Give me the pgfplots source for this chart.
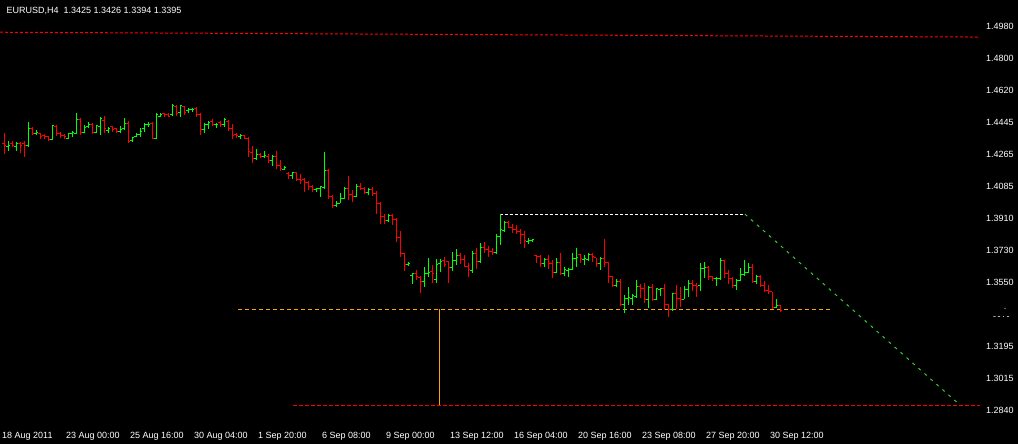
\documentclass[border=0pt]{standalone}
\usepackage{pgfplots}
\pgfplotsset{compat=1.18}
\usepackage{pgfplotstable}
\usepackage{fontspec}
\setmainfont{Liberation Sans}
\newcommand\mtfont{\fontsize{9bp}{10bp}\selectfont}
\definecolor{upc}{RGB}{0,255,0}
\definecolor{dnc}{RGB}{255,0,0}
\definecolor{orl}{RGB}{255,165,0}
\definecolor{grl}{RGB}{50,205,50}
\pgfdeclareplotmark{ctick}{\pgfpathmoveto{\pgfpoint{0pt}{0pt}}\pgfpathlineto{\pgfpoint{2bp}{0pt}}\pgfusepathqstroke}
\pgfdeclareplotmark{otick}{\pgfpathmoveto{\pgfpoint{-2bp}{0pt}}\pgfpathlineto{\pgfpoint{0pt}{0pt}}\pgfusepathqstroke}
\pgfplotstableread{
i o h l c
0 1.4328 1.4387 1.4266 1.4313
1 1.4309 1.4341 1.4285 1.4318
2 1.4328 1.4341 1.4309 1.4318
3 1.4309 1.4337 1.4285 1.4328
4 1.4328 1.4337 1.4276 1.4318
5 1.4328 1.4341 1.4253 1.4318
6 1.4318 1.4445 1.4305 1.4411
7 1.4411 1.4421 1.4374 1.4383
8 1.4383 1.4402 1.4374 1.4387
9 1.4380 1.4383 1.4352 1.4365
10 1.4369 1.4378 1.4350 1.4365
11 1.4365 1.4370 1.4343 1.4350
12 1.4350 1.4430 1.4346 1.4428
13 1.4424 1.4430 1.4369 1.4380
14 1.4380 1.4389 1.4356 1.4374
15 1.4374 1.4378 1.4350 1.4365
16 1.4356 1.4387 1.4350 1.4383
17 1.4380 1.4396 1.4361 1.4387
18 1.4383 1.4495 1.4378 1.4461
19 1.4461 1.4471 1.4372 1.4387
20 1.4387 1.4430 1.4383 1.4417
21 1.4421 1.4445 1.4415 1.4430
22 1.4430 1.4439 1.4383 1.4387
23 1.4387 1.4430 1.4383 1.4426
24 1.4424 1.4476 1.4374 1.4467
25 1.4454 1.4480 1.4387 1.4408
26 1.4402 1.4421 1.4383 1.4408
27 1.4421 1.4426 1.4393 1.4406
28 1.4408 1.4411 1.4383 1.4393
29 1.4393 1.4424 1.4387 1.4406
30 1.4411 1.4467 1.4402 1.4439
31 1.4439 1.4452 1.4328 1.4337
32 1.4346 1.4365 1.4337 1.4359
33 1.4365 1.4383 1.4361 1.4378
34 1.4378 1.4415 1.4365 1.4393
35 1.4411 1.4439 1.4393 1.4430
36 1.4430 1.4445 1.4421 1.4435
37 1.4439 1.4445 1.4352 1.4356
38 1.4356 1.4495 1.4350 1.4486
39 1.4480 1.4495 1.4476 1.4489
40 1.4495 1.4499 1.4476 1.4486
41 1.4489 1.4495 1.4476 1.4480
42 1.4486 1.4545 1.4480 1.4536
43 1.4532 1.4541 1.4480 1.4495
44 1.4499 1.4541 1.4476 1.4538
45 1.4532 1.4536 1.4486 1.4499
46 1.4508 1.4523 1.4499 1.4519
47 1.4514 1.4523 1.4504 1.4517
48 1.4523 1.4528 1.4476 1.4491
49 1.4491 1.4499 1.4374 1.4406
50 1.4406 1.4443 1.4383 1.4430
51 1.4430 1.4452 1.4406 1.4445
52 1.4449 1.4461 1.4424 1.4430
53 1.4430 1.4443 1.4415 1.4434
54 1.4445 1.4452 1.4417 1.4430
55 1.4430 1.4467 1.4421 1.4458
56 1.4449 1.4458 1.4396 1.4411
57 1.4411 1.4434 1.4352 1.4374
58 1.4378 1.4383 1.4359 1.4369
59 1.4365 1.4378 1.4352 1.4369
60 1.4369 1.4374 1.4352 1.4356
61 1.4356 1.4361 1.4253 1.4281
62 1.4278 1.4313 1.4220 1.4244
63 1.4244 1.4294 1.4235 1.4268
64 1.4268 1.4276 1.4248 1.4253
65 1.4253 1.4285 1.4248 1.4259
66 1.4257 1.4266 1.4220 1.4231
67 1.4231 1.4263 1.4203 1.4253
68 1.4253 1.4285 1.4183 1.4207
69 1.4207 1.4235 1.4175 1.4185
70 1.4183 1.4201 1.4179 1.4192
71 1.4161 1.4170 1.4127 1.4151
72 1.4151 1.4170 1.4127 1.4166
73 1.4166 1.4170 1.4120 1.4127
74 1.4127 1.4157 1.4101 1.4123
75 1.4127 1.4133 1.4055 1.4109
76 1.4109 1.4118 1.4068 1.4086
77 1.4086 1.4095 1.4055 1.4068
78 1.4068 1.4081 1.4058 1.4077
79 1.4077 1.4090 1.4030 1.4086
80 1.4081 1.4281 1.4073 1.4179
81 1.4179 1.4185 1.4017 1.4034
82 1.4034 1.4038 1.3965 1.3984
83 1.3984 1.4006 1.3971 1.3995
84 1.3995 1.4049 1.3993 1.4021
85 1.4021 1.4082 1.4017 1.4077
86 1.4077 1.4146 1.4012 1.4045
87 1.4045 1.4068 1.4001 1.4034
88 1.4034 1.4099 1.4027 1.4086
89 1.4086 1.4105 1.4068 1.4077
90 1.4077 1.4082 1.4049 1.4053
91 1.4053 1.4077 1.4040 1.4073
92 1.4073 1.4082 1.4034 1.4049
93 1.4049 1.4062 1.3934 1.3995
94 1.3995 1.4001 1.3880 1.3920
95 1.3920 1.3935 1.3880 1.3900
96 1.3900 1.3934 1.3890 1.3925
97 1.3925 1.3934 1.3873 1.3901
98 1.3901 1.3910 1.3780 1.3804
99 1.3804 1.3839 1.3692 1.3715
100 1.3715 1.3715 1.3618 1.3655
101 1.3652 1.3668 1.3646 1.3659
102 1.3590 1.3607 1.3544 1.3603
103 1.3603 1.3622 1.3566 1.3588
104 1.3581 1.3588 1.3496 1.3557
105 1.3557 1.3640 1.3529 1.3600
106 1.3600 1.3687 1.3581 1.3607
107 1.3613 1.3650 1.3551 1.3600
108 1.3570 1.3681 1.3551 1.3655
109 1.3659 1.3681 1.3613 1.3668
110 1.3672 1.3692 1.3640 1.3650
111 1.3668 1.3674 1.3551 1.3637
112 1.3637 1.3724 1.3618 1.3674
113 1.3674 1.3737 1.3650 1.3705
114 1.3705 1.3715 1.3655 1.3681
115 1.3681 1.3705 1.3640 1.3644
116 1.3644 1.3659 1.3585 1.3622
117 1.3618 1.3728 1.3607 1.3711
118 1.3711 1.3746 1.3627 1.3668
119 1.3668 1.3774 1.3663 1.3748
120 1.3748 1.3780 1.3715 1.3737
121 1.3737 1.3756 1.3696 1.3724
122 1.3724 1.3746 1.3705 1.3720
123 1.3720 1.3822 1.3711 1.3811
124 1.3811 1.3933 1.3761 1.3845
125 1.3841 1.3895 1.3836 1.3886
126 1.3886 1.3895 1.3854 1.3860
127 1.3860 1.3878 1.3826 1.3849
128 1.3849 1.3873 1.3822 1.3836
129 1.3836 1.3849 1.3767 1.3817
130 1.3817 1.3839 1.3746 1.3785
131 1.3780 1.3798 1.3767 1.3789
132 1.3785 1.3795 1.3780 1.3793
133 1.3702 1.3706 1.3659 1.3696
134 1.3696 1.3706 1.3641 1.3659
135 1.3659 1.3687 1.3641 1.3681
136 1.3681 1.3706 1.3626 1.3659
137 1.3659 1.3678 1.3579 1.3609
138 1.3609 1.3687 1.3607 1.3665
139 1.3665 1.3715 1.3598 1.3600
140 1.3600 1.3641 1.3590 1.3622
141 1.3618 1.3631 1.3585 1.3626
142 1.3626 1.3715 1.3622 1.3687
143 1.3687 1.3743 1.3641 1.3693
144 1.3706 1.3711 1.3659 1.3687
145 1.3681 1.3706 1.3650 1.3687
146 1.3683 1.3719 1.3674 1.3706
147 1.3706 1.3719 1.3668 1.3696
148 1.3690 1.3691 1.3641 1.3659
149 1.3659 1.3693 1.3622 1.3687
150 1.3687 1.3795 1.3641 1.3665
151 1.3665 1.3668 1.3551 1.3585
152 1.3585 1.3589 1.3529 1.3533
153 1.3533 1.3570 1.3525 1.3557
154 1.3557 1.3570 1.3423 1.3427
155 1.3427 1.3483 1.3381 1.3464
156 1.3464 1.3525 1.3427 1.3468
157 1.3464 1.3486 1.3427 1.3479
158 1.3473 1.3566 1.3464 1.3529
159 1.3529 1.3542 1.3464 1.3520
160 1.3520 1.3548 1.3436 1.3455
161 1.3455 1.3533 1.3412 1.3525
162 1.3525 1.3542 1.3449 1.3459
163 1.3459 1.3520 1.3455 1.3518
164 1.3514 1.3524 1.3477 1.3520
165 1.3520 1.3544 1.3399 1.3427
166 1.3427 1.3433 1.3358 1.3399
167 1.3399 1.3496 1.3395 1.3492
168 1.3492 1.3538 1.3403 1.3464
169 1.3464 1.3525 1.3418 1.3459
170 1.3460 1.3533 1.3459 1.3511
171 1.3511 1.3566 1.3473 1.3548
172 1.3548 1.3566 1.3505 1.3538
173 1.3538 1.3548 1.3470 1.3529
174 1.3533 1.3659 1.3507 1.3631
175 1.3631 1.3665 1.3579 1.3637
176 1.3637 1.3644 1.3566 1.3585
177 1.3585 1.3590 1.3561 1.3572
178 1.3572 1.3585 1.3535 1.3576
179 1.3576 1.3687 1.3566 1.3674
180 1.3674 1.3678 1.3576 1.3603
181 1.3603 1.3622 1.3544 1.3576
182 1.3576 1.3585 1.3520 1.3533
183 1.3533 1.3572 1.3511 1.3566
184 1.3566 1.3631 1.3563 1.3598
185 1.3598 1.3678 1.3590 1.3607
186 1.3607 1.3659 1.3603 1.3637
187 1.3637 1.3655 1.3548 1.3557
188 1.3557 1.3594 1.3544 1.3585
189 1.3585 1.3594 1.3529 1.3538
190 1.3538 1.3561 1.3501 1.3507
191 1.3507 1.3538 1.3488 1.3501
192 1.3501 1.3501 1.3405 1.3412
193 1.3412 1.3459 1.3408 1.3424
194 1.3425 1.3426 1.3394 1.3395
}\bars
\begin{document}
\begin{tikzpicture}
\fill[black] (0,0) rectangle (1018bp,444bp);
\begin{axis}[
  at={(0bp,26bp)}, anchor=south west,
  scale only axis, width=980bp, height=418bp,
  xmin=-1, xmax=244, ymin=1.27970, ymax=1.51266,
  axis line style={draw=none}, major tick length=0pt, tick style={draw=none},
  xtick={0,16,32,48,64,80,96,112,128,144,160,176,192},
  xticklabels={18 Aug 2011,23 Aug 00:00,25 Aug 16:00,30 Aug 04:00,1 Sep 20:00,6 Sep 08:00,9 Sep 00:00,13 Sep 12:00,16 Sep 04:00,20 Sep 16:00,23 Sep 08:00,27 Sep 20:00,30 Sep 12:00},
  ytick={1.4980,1.4800,1.4620,1.4445,1.4265,1.4085,1.3910,1.3730,1.3550,1.3195,1.3015,1.2840},
  yticklabels={1.4980,1.4800,1.4620,1.4445,1.4265,1.4085,1.3910,1.3730,1.3550,1.3195,1.3015,1.2840},
  yticklabel pos=right,
  yticklabel style={anchor=west, inner sep=0pt, xshift=6bp, text=white, font=\mtfont},
  xticklabel style={anchor=north west, inner sep=0pt, xshift=-2bp, yshift=-14.5bp, text=white, font=\mtfont},
]
% objects
\addplot[dnc, line width=1bp, dash pattern=on 3bp off 2bp] coordinates {(-1,1.4947) (244,1.4920)};
\addplot[orl, line width=1bp, dash pattern=on 4bp off 3bp] coordinates {(58.5,1.3403) (206.5,1.3403)};
\addplot[orl, line width=1bp] coordinates {(108.8,1.3403) (108.8,1.2862)};
\addplot[dnc, line width=1bp, dash pattern=on 4bp off 2bp] coordinates {(72.25,1.2868) (244,1.2868)};
\addplot[white, line width=1bp, dash pattern=on 3bp off 2bp] coordinates {(124,1.3933) (185.25,1.3933)};
\addplot[grl, line width=1bp, dash pattern=on 3bp off 5bp] coordinates {(185.25,1.3933) (238.2,1.2885)};
% up bars
\addplot[upc, only marks, mark=ctick, mark options={line width=1bp, solid},
  restrict expr to domain={\thisrow{c}-\thisrow{o}}{0:1},
  error bars/.cd, y dir=both, y explicit, error mark=none,
  error bar style={line width=1bp, solid, draw=upc}]
  table[x=i, y=c, y error plus expr=\thisrow{h}-\thisrow{c}, y error minus expr=\thisrow{c}-\thisrow{l}] {\bars};
\addplot[upc, only marks, mark=otick, mark options={line width=1bp, solid},
  restrict expr to domain={\thisrow{c}-\thisrow{o}}{0:1}]
  table[x=i, y=o] {\bars};
% down bars
\addplot[dnc, only marks, mark=ctick, mark options={line width=1bp, solid},
  restrict expr to domain={\thisrow{c}-\thisrow{o}}{-1:-0.00001},
  error bars/.cd, y dir=both, y explicit, error mark=none,
  error bar style={line width=1bp, solid, draw=dnc}]
  table[x=i, y=c, y error plus expr=\thisrow{h}-\thisrow{c}, y error minus expr=\thisrow{c}-\thisrow{l}] {\bars};
\addplot[dnc, only marks, mark=otick, mark options={line width=1bp, solid},
  restrict expr to domain={\thisrow{c}-\thisrow{o}}{-1:-0.00001}]
  table[x=i, y=o] {\bars};
\end{axis}
\node[anchor=base west, inner sep=0pt, text=white, font=\mtfont] at (6.5bp,430bp) {EURUSD,H4\ \ 1.3425 1.3426 1.3394 1.3395};
\node[anchor=base west, inner sep=0pt, text=white, font=\mtfont] at (1003.5bp,132bp) {·};
\node[anchor=base west, inner sep=0pt, text=white, font=\mtfont] at (993bp,124bp) {-\,-\,·\,-};
\pgfresetboundingbox
\useasboundingbox (0,0) rectangle (1018bp,444bp);
\end{tikzpicture}
\end{document}
